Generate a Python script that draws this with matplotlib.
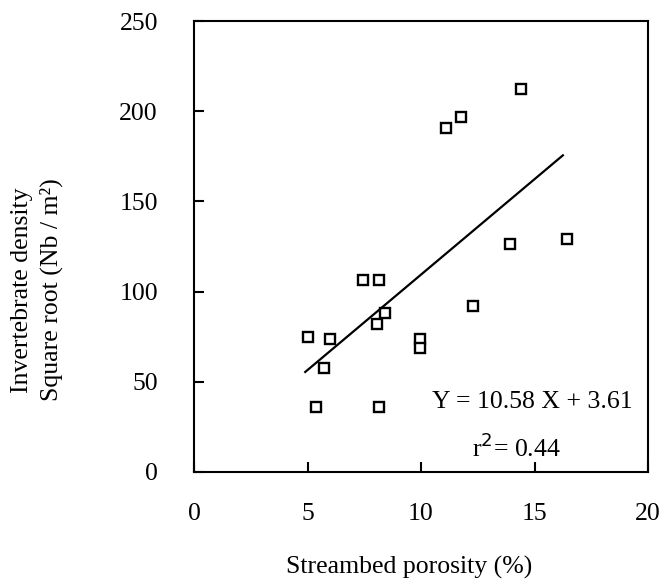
import matplotlib
matplotlib.use("Agg")
import matplotlib.pyplot as plt
import numpy as np

porosity = [14.39, 11.77, 11.09, 13.92, 16.44, 7.43, 8.13, 12.31, 8.41, 8.06,
            5.04, 5.98, 9.95, 9.95, 5.73, 5.39, 8.13]
density = [212.4, 196.7, 190.9, 126.5, 129.4, 106.3, 106.3, 92.1, 88.0, 82.2,
           74.8, 73.5, 73.9, 68.5, 57.8, 36.1, 36.1]
slope = 10.58
intercept = 3.61
fit_range = [4.9, 16.25]
xticks = [0, 5, 10, 15, 20]
yticks = [0, 50, 100, 150, 200, 250]

plt.rcParams['font.family'] = ['Liberation Serif', 'DejaVu Serif']
W, H = 666, 584
fig = plt.figure(figsize=(W / 100, H / 100), dpi=100)
ax = fig.add_axes([194 / W, 1 - 472 / H, (648 - 194) / W, (472 - 21) / H])

ax.plot(porosity, density, linestyle='none', marker='s', markersize=7.8,
        markerfacecolor='white', markeredgecolor='black', markeredgewidth=1.7)
fx = np.array(fit_range)
ax.plot(fx, slope * fx + intercept, color='black', linewidth=1.6)

ax.set_xlim(0, 20)
ax.set_ylim(0, 250)
ax.set_xticks(xticks)
ax.set_yticks(yticks)
ax.tick_params(direction='in', length=7, width=1.5, labelsize=18.5, top=False, right=False)
ax.tick_params(axis='x', pad=22)
ax.tick_params(axis='y', pad=26)
for s in ax.spines.values():
    s.set_linewidth(1.5)

ax.text(14.9, 38.7, 'Y = 10.58 X + 3.61', ha='center', va='center', fontsize=18.5)
ax.text(14.22, 13.2, r'r$^{2}$= 0.44', ha='center', va='center', fontsize=18.5)

fig.text(409 / W, 1 - 567 / H, 'Streambed porosity (%)', ha='center', va='center', fontsize=18.5)
fig.text(22 / W, 1 - 290 / H, 'Invertebrate density', ha='center', va='center',
         rotation=90, fontsize=18.5)
fig.text(51 / W, 1 - 290 / H, 'Square root (Nb / m²)', ha='center', va='center',
         rotation=90, fontsize=18.5)

fig.savefig('out.png', dpi=100)
